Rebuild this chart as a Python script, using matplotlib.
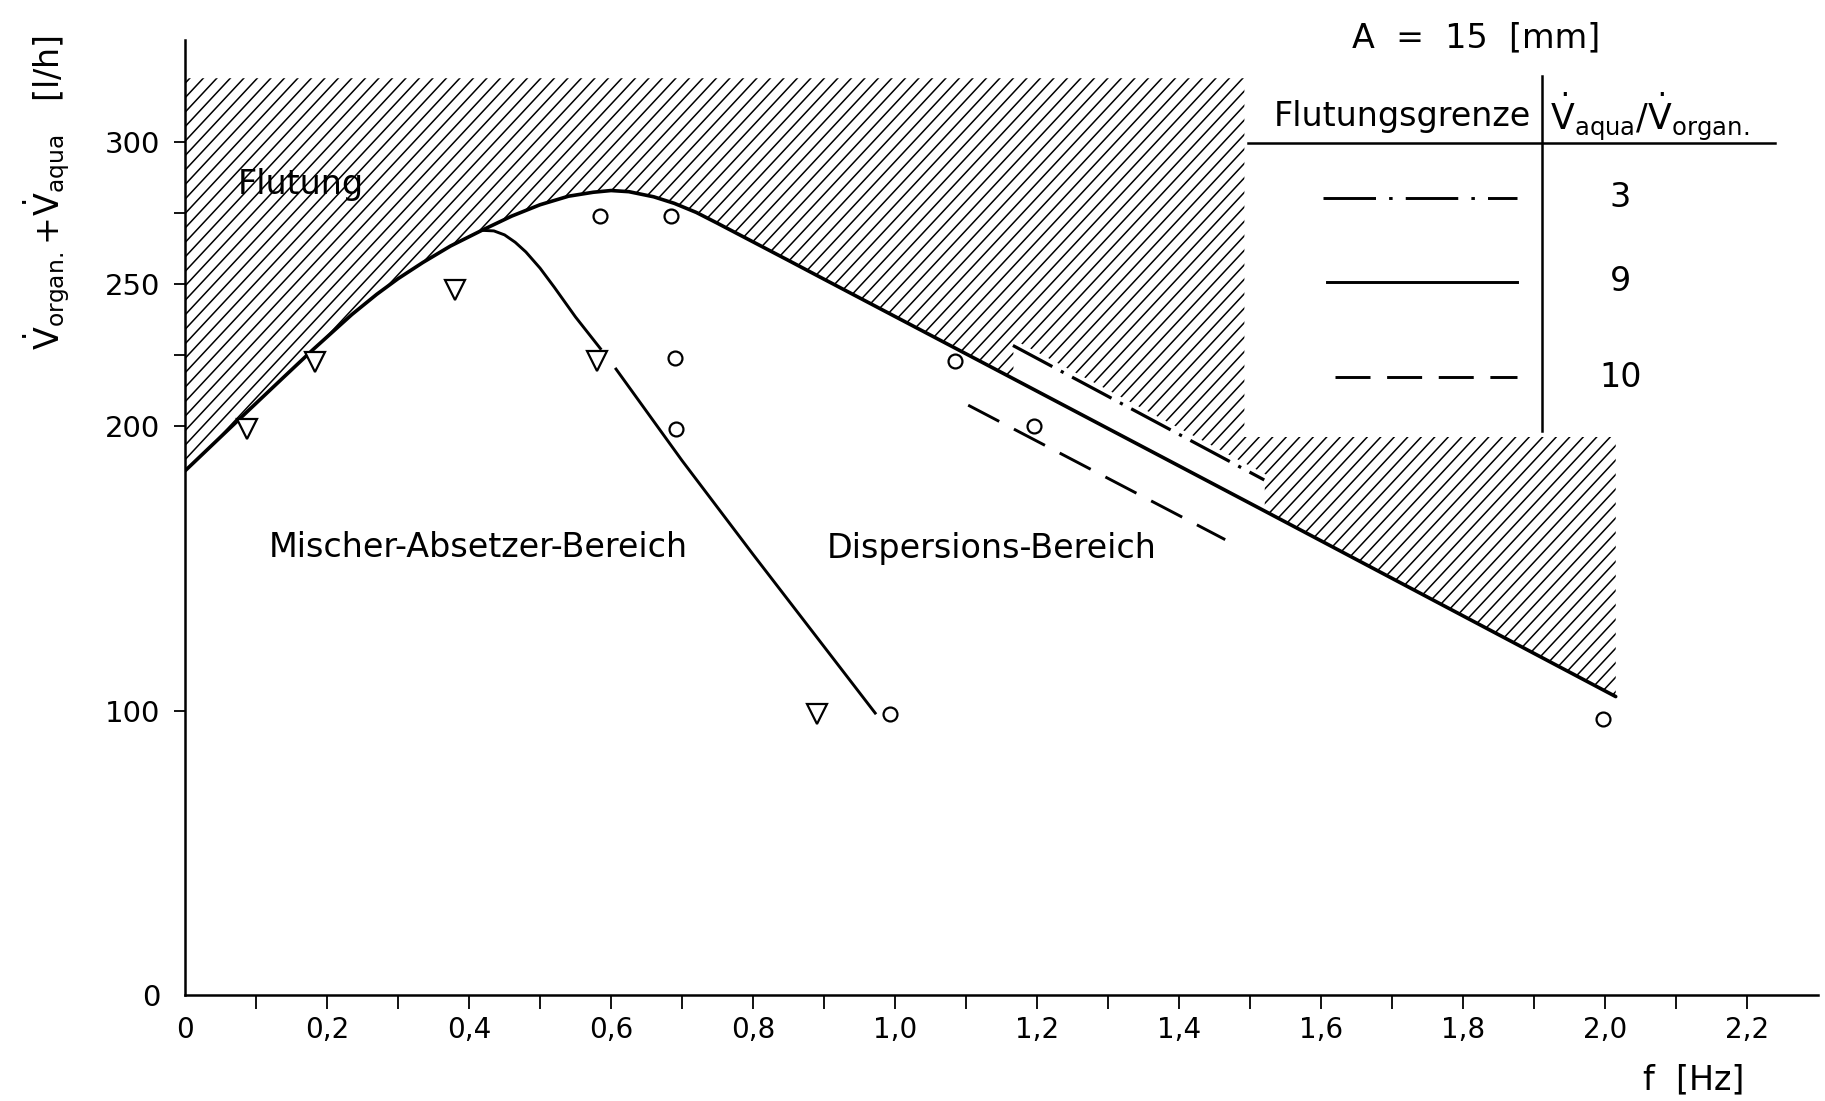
import numpy as np
import matplotlib
matplotlib.use('Agg')
import matplotlib.pyplot as plt
from matplotlib.patches import Polygon
from matplotlib.collections import LineCollection
from matplotlib.lines import Line2D

plt.rcParams['font.family'] = ['DejaVu Sans']
plt.rcParams['mathtext.fontset'] = 'dejavusans'

# flooding limit, Vaqua/Vorgan = 9 (solid line)
flood_f = [0.0, 0.05, 0.09, 0.14, 0.18, 0.235, 0.27, 0.30, 0.335, 0.374, 0.418, 0.46,
           0.50, 0.54, 0.575, 0.60, 0.625, 0.66, 0.689, 0.72, 0.749, 0.798, 0.85, 0.897,
           0.977, 1.121, 1.512, 2.015]
flood_v = [184.4, 196.3, 205.8, 217.6, 227, 239.4, 246.5, 252, 257.7, 263.5, 269, 274,
           278, 281, 282.4, 283, 282.6, 280.8, 278.5, 275.3, 271.6, 265.2, 258.4, 252.2,
           241.7, 222.8, 171.4, 105]

# border mixer-settler / dispersion (split around the triangle at 0.58 Hz)
mix1_f = [0.418, 0.435, 0.45, 0.465, 0.48, 0.50, 0.52, 0.55, 0.585]
mix1_v = [269, 268.8, 267.4, 264.8, 261.4, 255.7, 249, 238.5, 227.4]
mix2_f = [0.607, 0.70, 0.80, 0.972]
mix2_v = [220.2, 188, 155, 99.2]

# flooding limits for ratio 3 (dash-dot) and 10 (dashed)
ratio3_f = [1.166, 1.52]
ratio3_v = [228.5, 181.2]
ratio10_f = [1.103, 1.465]
ratio10_v = [207.5, 160.2]

# upper edge of the hatched flooding zone
zone_f = [0.0, 1.492, 1.492, 2.015]
zone_v = [322.5, 322.5, 196.3, 196.3]

# measured points
tri_f = [0.087, 0.183, 0.38, 0.58, 0.89]
tri_v = [199, 222.6, 248, 223, 99]
circ_f = [0.585, 0.684, 0.69, 0.692, 0.993, 1.085, 1.195, 1.997]
circ_v = [274, 274, 224, 199, 99, 223, 200, 97]

xtick_major = [0.0, 0.2, 0.4, 0.6, 0.8, 1.0, 1.2, 1.4, 1.6, 1.8, 2.0, 2.2]
xtick_minor = [0.1, 0.3, 0.5, 0.7, 0.9, 1.1, 1.3, 1.5, 1.7, 1.9, 2.1]
ytick_major = [0, 100, 200, 250, 300]
ytick_minor = [225, 275]

W, H = 1568.0, 946.0  # layout measured on the shrunk reference


def fx(px):
    return px / W


def fy(py):
    return 1 - py / H


dashdot = (0, (14, 3, 1, 3))
dashdot_key = (0, (18, 4.5, 1.2, 4.5))
dashed = (0, (12, 5.7))

fig = plt.figure(figsize=(18.25, 11.01), dpi=100)
ax = fig.add_axes([0.1014, 0.0962, 0.8948, 0.8676])
ax.set_xlim(0, 2.3)
ax.set_ylim(0, 336)

for s in ['top', 'right']:
    ax.spines[s].set_visible(False)
for s in ['left', 'bottom']:
    ax.spines[s].set_linewidth(1.8)

# hatched flooding zone, hatch lines clipped to the zone
verts = list(zip(zone_f, zone_v)) + list(zip(flood_f[::-1], flood_v[::-1]))
zone = Polygon(verts, closed=True, facecolor='none', edgecolor='none')
ax.add_patch(zone)
fig.canvas.draw()
bb = ax.get_window_extent()
ang = np.deg2rad(47)
dx = (bb.height / np.tan(ang)) / bb.width
step = 13.5 / bb.width
segs = [[(c, 0), (c + dx, 1)] for c in np.arange(-dx, 1, step)]
hatch = LineCollection(segs, colors='black', linewidths=1.1, transform=ax.transAxes, zorder=1)
hatch.set_clip_path(zone)
ax.add_collection(hatch)

# blank strip between flooding line and dash-dot line, plus a margin round the dash-dot line
xs = np.linspace(ratio3_f[0], ratio3_f[1], 60)
ax.fill_between(xs, np.interp(xs, flood_f, flood_v) - 1, np.interp(xs, ratio3_f, ratio3_v),
                color='white', lw=0, zorder=2)
ax.plot(ratio3_f, ratio3_v, color='white', lw=8, solid_capstyle='butt', zorder=2)

ax.plot(flood_f, flood_v, color='black', lw=2.6, zorder=3, solid_capstyle='round',
        solid_joinstyle='round')
ax.plot(mix1_f, mix1_v, color='black', lw=2.1, zorder=3, solid_joinstyle='round')
ax.plot(mix2_f, mix2_v, color='black', lw=2.1, zorder=3, solid_joinstyle='round')
ax.plot(ratio3_f, ratio3_v, color='black', lw=2.3, ls=dashdot, zorder=3)
ax.plot(ratio10_f, ratio10_v, color='black', lw=2.1, ls=dashed, zorder=3)

ax.plot(tri_f, tri_v, 'v', ms=15, mfc='white', mec='black', mew=1.6, ls='none', zorder=4)
ax.plot(circ_f, circ_v, 'o', ms=10, mfc='white', mec='black', mew=1.6, ls='none', zorder=4)

ax.set_xticks(xtick_major)
ax.set_xticklabels(['0' if t == 0 else f'{t:.1f}'.replace('.', ',') for t in xtick_major])
ax.set_xticks(xtick_minor, minor=True)
ax.set_yticks(ytick_major)
ax.set_yticks(ytick_minor, minor=True)
ax.tick_params(axis='x', which='both', direction='out', length=10, width=1.3, pad=5, labelsize=20)
ax.tick_params(axis='y', which='both', direction='out', length=8, width=1.3, pad=10, labelsize=21)
ax.xaxis.get_major_ticks()[0].tick1line.set_visible(False)
ax.yaxis.get_major_ticks()[0].tick1line.set_visible(False)

ax.text(0.163, 285, 'Flutung', fontsize=24, ha='center', va='center', zorder=5)
ax.text(0.413, 157.5, 'Mischer-Absetzer-Bereich', fontsize=24, ha='center', va='center', zorder=5)
ax.text(1.136, 157, 'Dispersions-Bereich', fontsize=24, ha='center', va='center', zorder=5)

# axis titles
fig.text(fx(40), fy(165),
         r'$\dot{\mathrm{V}}_{\mathrm{organ.}}\!+\!\dot{\mathrm{V}}_{\mathrm{aqua}}$   [l/h]',
         rotation=90, fontsize=24, ha='center', va='center')
fig.text(fx(1455), fy(928), 'f  [Hz]', fontsize=24, ha='center', va='center')

# legend table
fig.text(fx(1268), fy(33), 'A  =  15  [mm]', fontsize=24, ha='center', va='center')
fig.text(fx(1315), fy(100), 'Flutungsgrenze', fontsize=24, ha='right', va='center')
fig.text(fx(1332), fy(100),
         r'$\dot{\mathrm{V}}_{\mathrm{aqua}}/\dot{\mathrm{V}}_{\mathrm{organ.}}$',
         fontsize=25, ha='left', va='center')
fig.add_artist(Line2D([fx(1072), fx(1525)], [fy(123), fy(123)], color='black', lw=1.8))
fig.add_artist(Line2D([fx(1325), fx(1325)], [fy(65), fy(370)], color='black', lw=1.8))

legend_rows = [('3', dashdot_key, 170, 1137),
               ('9', '-', 242, 1140),
               ('10', dashed, 324, 1147)]
for label, style, ypos, x0 in legend_rows:
    fig.add_artist(Line2D([fx(x0), fx(1303)], [fy(ypos), fy(ypos)], color='black',
                          lw=2.1, ls=style))
    fig.text(fx(1392), fy(ypos), label, fontsize=24, ha='center', va='center')

fig.savefig('out.png', dpi=100)
